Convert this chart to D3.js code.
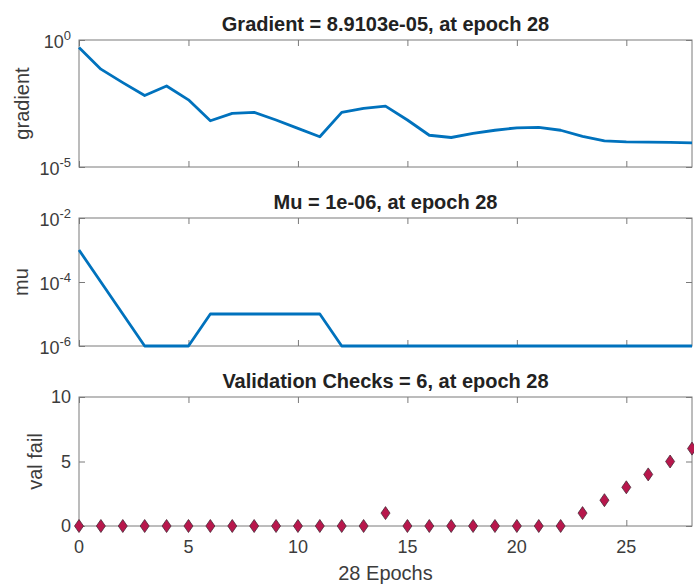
<!DOCTYPE html>
<html>
<head>
<meta charset="utf-8">
<script src="https://cdn.jsdelivr.net/npm/d3@7"></script>
<style>
  body { margin: 0; background: #fff; }
  svg { display: block; font-family: "Liberation Sans", Arial, Helvetica, sans-serif; }
  .axis path, .axis line { stroke: #7a7a7a; }
  .axis text { fill: #3c3c3c; font-size: 18px; }
</style>
</head>
<body>
<svg id="chart" width="694" height="584"></svg>
<script>
const epochs = d3.range(0, 29);
const gradientValues = [0.51, 0.071, 0.021, 0.0065, 0.0155, 0.0044, 6.6e-4, 1.29e-3, 1.41e-3, 7.1e-4,
  3.3e-4, 1.55e-4, 1.41e-3, 2.04e-3, 2.5e-3, 7.1e-4, 1.78e-4, 1.45e-4, 2.1e-4, 2.8e-4,
  3.5e-4, 3.6e-4, 2.8e-4, 1.62e-4, 1.07e-4, 9.8e-5, 9.5e-5, 9.4e-5, 8.9103e-5];
const muValues = [1e-3, 1e-4, 1e-5, 1e-6, 1e-6, 1e-6, 1e-5, 1e-5, 1e-5, 1e-5,
  1e-5, 1e-5, 1e-6, 1e-6, 1e-6, 1e-6, 1e-6, 1e-6, 1e-6, 1e-6,
  1e-6, 1e-6, 1e-6, 1e-6, 1e-6, 1e-6, 1e-6, 1e-6, 1e-6];
const valFailValues = [0, 0, 0, 0, 0, 0, 0, 0, 0, 0, 0, 0, 0, 0, 1, 0, 0, 0, 0, 0,
  0, 0, 0, 1, 2, 3, 4, 5, 6];
const xTicks = [0, 5, 10, 15, 20, 25];
const gradientTicks = [1e0, 1e-5];
const muTicks = [1e-2, 1e-4, 1e-6];
const valFailTicks = [0, 5, 10];
const titles = ["Gradient = 8.9103e-05, at epoch 28", "Mu = 1e-06, at epoch 28", "Validation Checks = 6, at epoch 28"];

const svg = d3.select("#chart");
const left = 79, right = 692;
const lineColor = "#0072bd";
const tickLen = 6;

const x = d3.scaleLinear().domain([0, 28]).range([left, right]);

function panel(top, bottom, y, ticks, logLabels, title, ylabel, ylabelX) {
  const g = svg.append("g");

  // inward ticks on all four sides, like a boxed matlab axes
  const xb = g.append("g").attr("class", "axis")
    .attr("transform", `translate(0,${bottom})`)
    .call(d3.axisBottom(x).tickValues(xTicks).tickSize(-tickLen).tickSizeOuter(0).tickFormat(""));
  const xt = g.append("g").attr("class", "axis")
    .attr("transform", `translate(0,${top})`)
    .call(d3.axisTop(x).tickValues(xTicks).tickSize(-tickLen).tickSizeOuter(0).tickFormat(""));
  const yl = g.append("g").attr("class", "axis")
    .attr("transform", `translate(${left},0)`)
    .call(d3.axisLeft(y).tickValues(ticks).tickSize(-tickLen).tickSizeOuter(0).tickPadding(8)
      .tickFormat(logLabels ? "" : d3.format("d")));
  const yr = g.append("g").attr("class", "axis")
    .attr("transform", `translate(${right},0)`)
    .call(d3.axisRight(y).tickValues(ticks).tickSize(-tickLen).tickSizeOuter(0).tickFormat(""));
  [xb, xt, yl, yr].forEach(a => a.select(".domain").remove());

  g.append("rect")
    .attr("x", left).attr("y", top)
    .attr("width", right - left).attr("height", bottom - top)
    .attr("fill", "none").attr("stroke", "#7a7a7a");

  if (logLabels) {
    ticks.forEach(t => {
      const e = Math.round(Math.log10(t));
      const txt = g.append("text")
        .attr("x", left - 8).attr("y", y(t) + 8)
        .attr("text-anchor", "end")
        .attr("fill", "#3c3c3c").style("font-size", "18px");
      txt.append("tspan").text("10");
      txt.append("tspan").attr("dy", -8).style("font-size", "13px").text(e);
    });
  }

  g.append("text")
    .attr("x", (left + right) / 2).attr("y", top - 9)
    .attr("text-anchor", "middle")
    .style("font-size", "20px").style("font-weight", "bold")
    .attr("fill", "#222")
    .text(title);

  g.append("text")
    .attr("transform", `translate(${ylabelX},${(top + bottom) / 2}) rotate(-90)`)
    .attr("text-anchor", "middle")
    .style("font-size", "20px")
    .attr("fill", "#3c3c3c")
    .text(ylabel);

  return g;
}

// gradient
const yGrad = d3.scaleLog().domain([1e-5, 1]).range([167, 40]);
const gGrad = panel(40, 167, yGrad, gradientTicks, true, titles[0], "gradient", 29);
gGrad.append("path")
  .datum(epochs)
  .attr("fill", "none").attr("stroke", lineColor).attr("stroke-width", 2.8)
  .attr("stroke-linejoin", "round")
  .attr("d", d3.line().x(d => x(d)).y(d => yGrad(gradientValues[d])));

// mu
const yMu = d3.scaleLog().domain([1e-6, 1e-2]).range([346, 218]);
const gMu = panel(218, 346, yMu, muTicks, true, titles[1], "mu", 28);
gMu.append("path")
  .datum(epochs)
  .attr("fill", "none").attr("stroke", lineColor).attr("stroke-width", 2.8)
  .attr("stroke-linejoin", "round")
  .attr("d", d3.line().x(d => x(d)).y(d => yMu(muValues[d])));

// validation checks
const yVal = d3.scaleLinear().domain([0, 10]).range([526, 397]);
const gVal = panel(397, 526, yVal, valFailTicks, false, titles[2], "val fail", 42);
gVal.selectAll("path.mark")
  .data(epochs)
  .enter().append("path")
  .attr("class", "mark")
  .attr("transform", d => `translate(${x(d)},${yVal(valFailValues[d])})`)
  .attr("d", "M0,-6.5L4.5,0L0,6.5L-4.5,0Z")
  .attr("fill", "#b8174c")
  .attr("stroke", "#4a2a38")
  .attr("stroke-width", 0.8);

// x tick labels under last panel
svg.append("g").selectAll("text")
  .data(xTicks)
  .enter().append("text")
  .attr("x", d => x(d)).attr("y", 553)
  .attr("text-anchor", "middle")
  .attr("fill", "#3c3c3c").style("font-size", "18px")
  .text(d => d);

svg.append("text")
  .attr("x", (left + right) / 2).attr("y", 580)
  .attr("text-anchor", "middle")
  .attr("fill", "#3c3c3c").style("font-size", "20px")
  .text("28 Epochs");
</script>
</body>
</html>
